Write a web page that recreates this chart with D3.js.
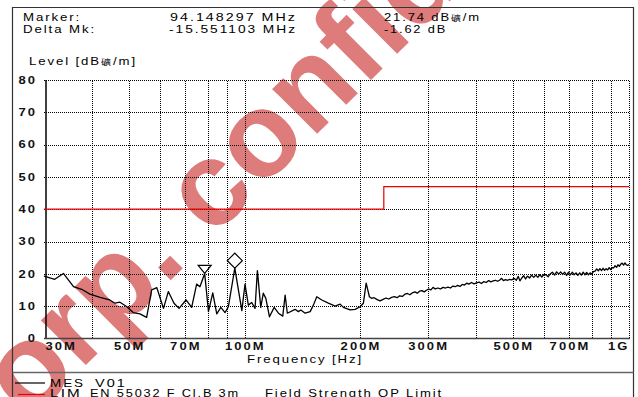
<!DOCTYPE html>
<html>
<head>
<meta charset="utf-8">
<script src="https://cdn.jsdelivr.net/npm/d3@7"></script>
<style>
  html, body { margin: 0; padding: 0; background: #fff; }
  svg { display: block; }
  text { font-family: "Liberation Sans", Arial, sans-serif; }
</style>
</head>
<body>
<svg id="chart" width="638" height="397"></svg>
<script>
// ---- measurement trace MES V01: frequency [MHz] and level [dBµV/m] ----
const mesFreq = [
  30.0, 32.0, 33.7, 35.8, 37.6, 39.5, 42.0, 44.5, 45.9, 47.3, 49.3, 51.2, 53.3, 55.5,
  57.2, 59.0, 61.4, 63.2, 65.4, 67.4, 70.3, 72.7, 74.9, 76.4, 78.597194, 80.4, 82.5,
  84.5, 86.6, 88.8, 90.6, 94.148297, 98.2, 100.1, 102.1, 104.2, 106.3, 107.8, 110.0,
  111.7, 113.4, 115.9, 119.2, 122.3, 125.5, 127.3, 129.0, 135.1, 137.8, 139.9, 143.5,
  147.9, 150.8, 153.9, 158.6, 165.0, 171.8, 175.0, 177.0, 180.5, 187.9, 193.7, 199.5,
  203.5, 206.9, 211.0, 213.6,
  217, 221, 225, 229, 233, 237, 241, 245, 249, 253, 257, 261, 265, 269, 273, 277, 281,
  285, 289, 293, 297, 301, 305, 309, 313, 318, 323, 328, 333, 338, 343, 348, 353, 358,
  363, 368, 373, 378, 383, 389, 395, 401, 407, 413, 419, 425, 431, 437, 443, 449, 455,
  461, 466, 471, 477, 483, 489, 495,
  502, 509, 515, 520, 526, 532, 538, 544, 551, 558,
  565, 572, 579, 586, 593, 600, 608, 616, 624, 632,
  640, 648, 656, 664, 672, 680, 688, 696, 704, 712,
  720, 728, 736, 744, 752, 760, 768, 776, 784, 792,
  800, 808, 816, 824, 832, 840, 848, 856, 864, 872,
  880, 888, 896, 904, 912, 920, 928, 936, 944, 952,
  960, 968, 976, 984, 992, 1000
];
const mesLevel = [
  19.3, 18.3, 20.1, 16.0, 15.2, 13.7, 12.7, 11.9, 10.9, 11.2, 9.8, 8.0, 7.6, 6.5,
  15.0, 15.7, 9.3, 14.5, 10.9, 9.3, 11.9, 9.6, 16.8, 16.0, 20.12, 8.3, 14.1,
  7.6, 9.6, 8.0, 9.8, 21.74, 8.6, 16.8, 10.3, 11.1, 9.3, 21.0, 9.6,
  14.0, 12.4, 6.7, 9.6, 7.8, 6.9, 13.4, 7.8, 9.0, 8.3, 8.8, 7.8,
  8.3, 10.3, 12.9, 11.9, 10.9, 10.0, 10.4, 10.6, 9.6, 8.8, 9.0, 9.8,
  10.9, 17.1, 12.9, 12.4,
  12.6, 12.0, 11.6, 12.1, 12.5, 12.2, 12.7, 12.9, 12.6, 13.2, 13.0, 13.7, 13.9, 13.5, 14.1, 14.4, 14.0,
  14.6, 14.8, 14.4, 14.9, 15.3, 15.0, 15.8, 15.3, 15.6, 15.3, 15.8, 15.6, 15.9, 15.6, 16.2, 16.0, 16.4,
  16.1, 16.7, 16.5, 17.1, 16.8, 17.3, 16.9, 17.2, 17.4, 17.0, 17.6, 17.3, 17.9, 17.5, 17.8, 18.0, 17.7,
  18.1, 18.6, 17.9, 18.2, 18.0, 18.3, 18.1,
  18.6, 18.0, 19.2, 17.8, 18.7, 19.4, 18.4, 19.3, 18.7, 19.6,
  18.9, 19.6, 18.9, 19.7, 19.0, 19.7, 19.7, 19.1, 20.0, 20.5,
  19.6, 20.6, 19.9, 20.6, 19.8, 20.5, 19.5, 20.5, 19.7, 20.5,
  19.7, 20.3, 19.5, 20.3, 19.6, 20.5, 19.7, 20.4, 19.7, 20.3,
  19.9, 20.7, 20.8, 21.5, 20.9, 21.6, 21.0, 21.7, 21.1, 21.6,
  21.2, 21.9, 21.3, 21.9, 21.8, 22.5, 22.0, 22.8, 22.3, 23.0,
  23.3, 22.7, 23.4, 22.8, 22.6, 22.9
];

// ---- limit LIM EN 55032 F Cl.B 3m (field strength QP) ----
const limFreq  = [30, 230, 230, 1000];
const limLevel = [40, 40, 47, 47];

// ---- markers ----
const markerFreq = 94.148297, markerLevel = 21.74;
const deltaFreq = -15.551103, deltaLevel = -1.62;

// ---- axes ----
const yTicks = [0, 10, 20, 30, 40, 50, 60, 70, 80];
const xGridValues = [40, 50, 60, 70, 80, 90, 100, 200, 300, 400, 500, 600, 700, 800, 900, 1000];
const xTickValues = [30, 50, 70, 100, 200, 300, 500, 700, 1000];
const xTickLabels = ["30M", "50M", "70M", "100M", "200M", "300M", "500M", "700M", "1G"];

const svg = d3.select("#chart");
const W = 638, H = 397;
const plot = { left: 44, right: 629, top: 80, bottom: 338.4 };

const x = d3.scaleLog().domain([30, 1000]).range([plot.left, plot.right]);
const y = d3.scaleLinear().domain([0, 80]).range([plot.bottom, plot.top]);

svg.append("rect").attr("width", W).attr("height", H).attr("fill", "#fff");

// watermark, underneath everything else
svg.append("text")
  .attr("transform", "translate(-33,484) rotate(-45)")
  .style("font-weight", "bold")
  .style("font-size", "120px")
  .style("fill", "#de7b7b")
  .text("Corp. confidential");

// outer frame and legend separator
const frame = svg.append("g").attr("fill", "none");
frame.append("path").attr("d", "M12.5,400 V7.5 H633.5 V400").attr("stroke", "#333").attr("stroke-width", 1.2);
frame.append("line").attr("x1", 12.5).attr("x2", 633.5).attr("y1", 372.5).attr("y2", 372.5)
  .attr("stroke", "#666").attr("stroke-width", 1.5);

// helper: text stretched to a given width
function fitText(g, str, px, py, len, opts = {}) {
  const t = g.append("text").attr("x", px).attr("y", py)
    .style("fill", "#000")
    .style("font-size", (opts.size || 10.5) + "px")
    .style("letter-spacing", (opts.spacing || 1.5) + "px");
  if (opts.weight) t.style("font-weight", opts.weight);
  if (opts.anchor) t.attr("text-anchor", opts.anchor);
  if (Array.isArray(str)) {
    str.forEach(p => {
      const s = t.append("tspan").text(p.t);
      if (p.size) s.style("font-size", p.size + "px");
    });
  } else {
    t.text(str);
  }
  t.attr("textLength", len).attr("lengthAdjust", "spacingAndGlyphs");
  return t;
}

// header
const head = svg.append("g");
fitText(head, "Marker:", 23, 21, 58);
fitText(head, "Delta Mk:", 23, 33, 73);
fitText(head, markerFreq.toFixed(6) + " MHz", 170, 21, 127);
fitText(head, deltaFreq.toFixed(6) + " MHz", 169, 33, 128);
fitText(head, [{ t: markerLevel.toFixed(2) + " dB" }, { t: "礦", size: 8 }, { t: "/m" }], 384, 21, 97);
fitText(head, deltaLevel.toFixed(2) + " dB", 384, 33, 63);
fitText(head, [{ t: "Level [dB" }, { t: "礦", size: 8 }, { t: "/m]" }], 29, 65, 108);

// grid: horizontal
const gridY = svg.append("g")
  .attr("transform", `translate(${plot.left},0)`)
  .call(d3.axisLeft(y).tickValues(yTicks.filter(d => d > 0)).tickSize(-(plot.right - plot.left)).tickFormat(""));
gridY.select(".domain").remove();
gridY.selectAll("line").attr("stroke", "#000").attr("stroke-dasharray", "1,1").attr("shape-rendering", "crispEdges");

// grid: vertical
const gridX = svg.append("g")
  .attr("transform", `translate(0,${plot.bottom})`)
  .call(d3.axisBottom(x).tickValues(xGridValues).tickSize(-(plot.bottom - plot.top)).tickFormat(""));
gridX.select(".domain").remove();
gridX.selectAll("line").attr("stroke", "#000").attr("stroke-dasharray", "1,1").attr("shape-rendering", "crispEdges");

// axis lines
svg.append("line").attr("x1", 46).attr("x2", 46).attr("y1", plot.top).attr("y2", plot.bottom)
  .attr("stroke", "#000").attr("stroke-width", 1.5);
svg.append("line").attr("x1", plot.left).attr("x2", plot.right + 1).attr("y1", plot.bottom).attr("y2", plot.bottom)
  .attr("stroke", "#444").attr("stroke-width", 1.5);

// y tick labels
const stretch = 1.3;
const yAxis = svg.append("g")
  .attr("transform", `translate(${plot.left},0)`)
  .call(d3.axisLeft(y).tickValues(yTicks).tickSize(0).tickFormat(d3.format("d")));
yAxis.select(".domain").remove();
yAxis.selectAll("text")
  .attr("x", -7 / stretch)
  .attr("transform", `scale(${stretch},1)`)
  .style("font-size", "10px").style("font-weight", "bold").style("letter-spacing", "1.6px")
  .style("fill", "#111");

// x tick labels
const xAxis = svg.append("g")
  .attr("transform", `translate(0,${plot.bottom})`)
  .call(d3.axisBottom(x).tickValues(xTickValues).tickSize(0).tickPadding(0)
    .tickFormat((d, i) => xTickLabels[i]));
xAxis.select(".domain").remove();
xAxis.selectAll("text")
  .attr("y", 12).attr("dy", 0)
  .attr("transform", `scale(${stretch},1)`)
  .style("font-size", "10px").style("font-weight", "bold").style("letter-spacing", "1.6px")
  .style("fill", "#111")
  .each(function (d, i, n) {
    const t = d3.select(this);
    if (i === 0) t.attr("text-anchor", "start").attr("x", 1 / stretch);
    else if (i === n.length - 1) t.attr("text-anchor", "end").attr("x", 0);
  });

fitText(svg, "Frequency [Hz]", 247, 363, 116);

// limit line
const limPts = limFreq.map((f, i) => [f, limLevel[i]]);
svg.append("path")
  .attr("d", d3.line().x(d => x(d[0])).y(d => y(d[1]))(limPts))
  .attr("fill", "none").attr("stroke", "#ee0000").attr("stroke-width", 1.2);

// measurement trace
const mesPts = mesFreq.map((f, i) => [f, mesLevel[i]]);
svg.append("path")
  .attr("d", d3.line().x(d => x(d[0])).y(d => y(d[1]))(mesPts))
  .attr("fill", "none").attr("stroke", "#000").attr("stroke-width", 1.3)
  .attr("stroke-linejoin", "round");

// markers: diamond on the marker, inverted triangle on the delta marker
const mx = x(markerFreq), my = y(markerLevel);
svg.append("path")
  .attr("d", `M${mx},${my} L${mx - 7.5},${my - 7.5} L${mx},${my - 15} L${mx + 7.5},${my - 7.5} Z`)
  .attr("fill", "none").attr("stroke", "#000").attr("stroke-width", 1.2);
const dx = x(markerFreq + deltaFreq), dy = y(markerLevel + deltaLevel);
svg.append("path")
  .attr("d", `M${dx},${dy} L${dx - 6.5},${dy - 8} L${dx + 6.5},${dy - 8} Z`)
  .attr("fill", "none").attr("stroke", "#000").attr("stroke-width", 1.2);

// legend
const leg = svg.append("g");
leg.append("line").attr("x1", 15).attr("x2", 45).attr("y1", 383).attr("y2", 383).attr("stroke", "#000").attr("stroke-width", 1.2);
leg.append("line").attr("x1", 18).attr("x2", 45).attr("y1", 394.5).attr("y2", 394.5).attr("stroke", "#ee0000").attr("stroke-width", 1.2);
fitText(leg, "MES", 50, 387, 35);
fitText(leg, "V01", 95, 387, 32);
fitText(leg, "LIM", 50, 397, 32);
fitText(leg, "EN 55032 F Cl.B 3m", 90, 397, 150);
fitText(leg, "Field Strength QP Limit", 265, 397, 178);
</script>
</body>
</html>
